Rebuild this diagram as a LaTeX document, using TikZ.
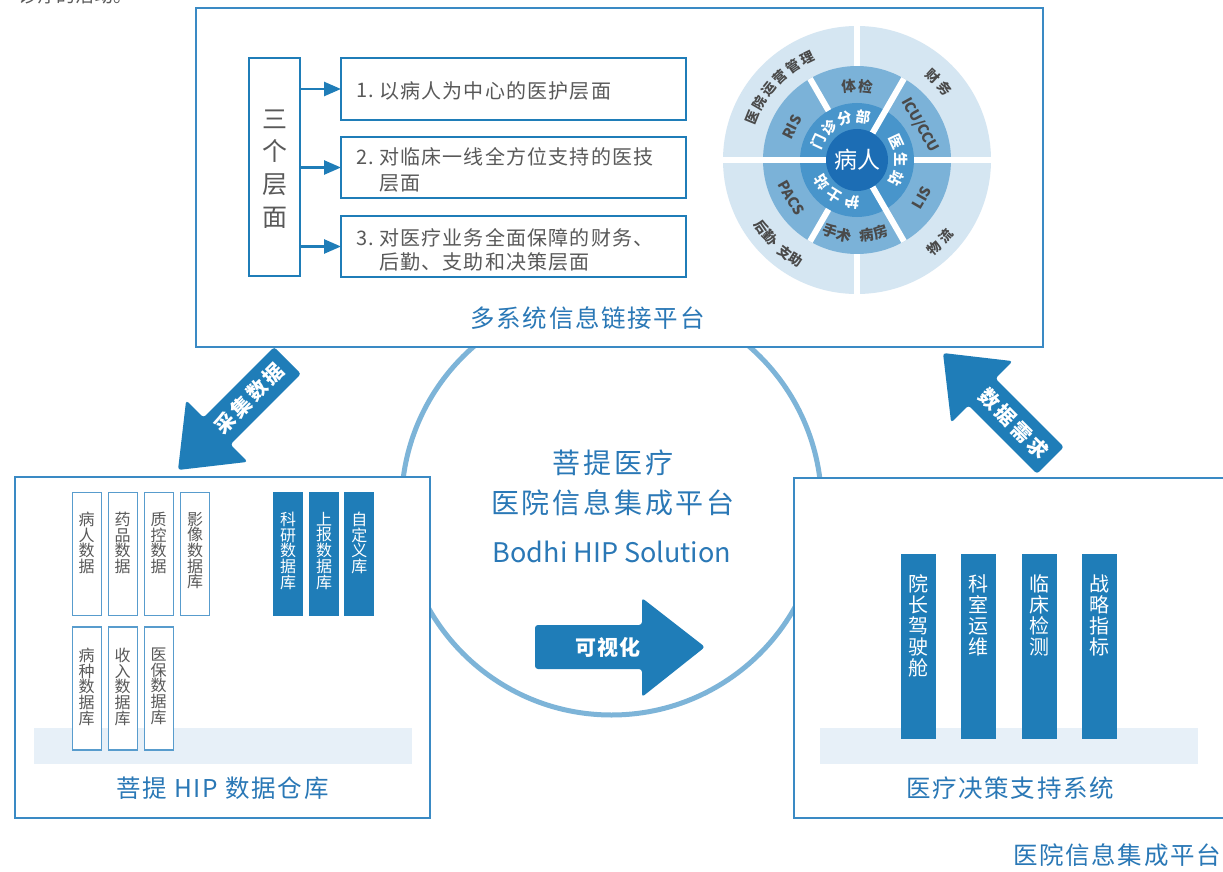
\documentclass[tikz,border=0pt]{standalone}
\usepackage{fontspec}
\setmainfont{Noto Sans CJK SC}
\newfontfamily\lsA[LetterSpace=6]{Noto Sans CJK SC}
\newfontfamily\lsB[LetterSpace=7]{Noto Sans CJK SC}
\newfontfamily\lsC[LetterSpace=10]{Noto Sans CJK SC}
\newfontfamily\lsD[LetterSpace=14]{Noto Sans CJK SC}
\usetikzlibrary{arrows.meta}
\definecolor{mainblue}{HTML}{1F7DB8}
\definecolor{lineblue}{HTML}{3A8AC4}
\definecolor{txtblue}{HTML}{2A78B6}
\definecolor{circblue}{HTML}{7DB4D8}
\definecolor{bandblue}{HTML}{E7F0F8}
\definecolor{ringA}{HTML}{D5E6F2}
\definecolor{ringB}{HTML}{7BB2D8}
\definecolor{ringC}{HTML}{4895CB}
\definecolor{ringD}{HTML}{1C6DB4}
\definecolor{gtxt}{HTML}{595959}
\definecolor{ringtxt}{HTML}{4A4A4A}
\newcommand\fsz[2]{\fontsize{#1}{#2}\selectfont}
\newcommand\wheelgap[3]{\draw[white,line width=6pt] ({857+#2*cos(#1)},{160-#2*sin(#1)}) -- ({857+#3*cos(#1)},{160-#3*sin(#1)});}
\newcommand\cwarc[3]{\foreach \ch/\ang in {#3} {\node[#2, rotate=\ang-90] at ({857+#1*cos(\ang)},{160-#1*sin(\ang)}) {\ch};}}
\newcommand\ccwarc[3]{\foreach \ch/\ang in {#3} {\node[#2, rotate=\ang+90] at ({857+#1*cos(\ang)},{160-#1*sin(\ang)}) {\ch};}}
\tikzset{
  frame/.style={draw=lineblue, line width=1.4pt, fill=white},
  itembox/.style={draw=mainblue, line width=2.5pt, fill=white, minimum width=345pt, minimum height=61pt},
  itemtxt/.style={anchor=west, text=gtxt, font=\lsA\fsz{20}{20}},
  dbbox/.style={draw=lineblue!85, line width=1.4pt, fill=white, minimum width=29pt, minimum height=123pt},
  dbdark/.style={fill=mainblue, minimum width=30pt, minimum height=124pt},
  dbtxt/.style={anchor=north, align=center, font=\fsz{16}{15.7}},
  bar/.style={fill=mainblue, minimum width=35pt, minimum height=185pt},
  bartxt/.style={anchor=north, align=center, text=white, font=\fsz{20}{21}},
  title/.style={text=txtblue, font=\lsB\fsz{24.5}{24.5}},
  ringlbl/.style={text=ringtxt, font=\bfseries\fsz{13.5}{13.5}},
  ringlblB/.style={text=ringtxt, font=\bfseries\fsz{14.5}{14.5}},
  innerlbl/.style={text=white, font=\bfseries\fsz{14.5}{14.5}},
  bigarrow/.style={fill=mainblue, rounded corners=3pt},
  arrowtxt/.style={text=white, font=\lsD\bfseries\fsz{20}{20}},
  conn/.style={draw=mainblue, line width=2.5pt, -{Triangle[length=17pt,width=14pt]}}
}
\begin{document}
\begin{tikzpicture}[x=1pt,y=-1pt, every node/.style={inner sep=0pt, outer sep=0pt}]
\useasboundingbox (0,0) rectangle (1223,872);
\fill[white] (0,0) rectangle (1223,872);

% cut-off text at top
\node[anchor=base west, text=gtxt, font=\fsz{19}{19}] (cuttext) at (19,3) {诊疗的活动。};

% big circle
\draw[circblue, line width=5pt] (611.5,505) circle[radius=210pt];

% top box
\path[frame] (196,8) rectangle (1043,347);

% three layers
\node[itembox, minimum width=51pt, minimum height=218pt] (tri) at (274.5,167) {};
\node[align=center, text=gtxt, font=\fsz{25}{32.7}] (tritxt) at (275,169) {三\\个\\层\\面};
\node[itembox, minimum height=62pt] (item1) at (513.5,89) {};
\node[itembox] (item2) at (513.5,167.5) {};
\node[itembox] (item3) at (513.5,246.5) {};
\draw[conn] (tri.east |- item1) -- (item1.west);
\draw[conn] (tri.east |- item2) -- (item2.west);
\draw[conn] (tri.east |- item3) -- (item3.west);
\node[itemtxt] (n1) at (356,91) {1.};
\node[itemtxt] (t1) at (379,91) {以病人为中心的医护层面};
\node[itemtxt] (n2) at (356,157) {2.};
\node[itemtxt] (t2a) at (379,157) {对临床一线全方位支持的医技};
\node[itemtxt] (t2b) at (379,183) {层面};
\node[itemtxt] (n3) at (356,238) {3.};
\node[itemtxt] (t3a) at (379,238) {对医疗业务全面保障的财务、};
\node[itemtxt] (t3b) at (379,262) {后勤、支助和决策层面};
\node[title] (toptitle) at (587.5,318) {多系统信息链接平台};

% wheel
\fill[ringA] (857,160) circle[radius=134pt];
\fill[ringB] (857,160) circle[radius=94pt];
\fill[ringC] (857,160) circle[radius=57pt];
\wheelgap{180}{31}{138}
\wheelgap{0}{57}{138}
\wheelgap{90}{94}{138}
\wheelgap{270}{94}{138}
\wheelgap{120}{57}{94}
\wheelgap{240}{57}{94}
\wheelgap{60}{31}{94}
\wheelgap{-60}{31}{94}
\fill[ringD] (857,160) circle[radius=31pt];
\node[text=white, font=\fsz{23}{23}] (patient) at (857,160) {病人};
\cwarc{113}{ringlbl}{医/158,院/149.6,运/141.2,营/132.8,管/124.4,理/116}
\cwarc{113}{ringlbl}{财/47.5,务/39}
\ccwarc{117}{ringlbl}{后/215,勤/221.5,、/227,支/232,助/238.5}
\ccwarc{117}{ringlbl}{物/311,流/319.5}
\cwarc{74}{ringlblB}{体/96.5,检/83.5}
\ccwarc{76}{ringlblB}{手/249,术/260,、/267,病/277,房/288}
\node[ringlblB, rotate=63] (ris) at ({857+73*cos(153)},{160-73*sin(153)}) {RIS};
\node[ringlblB, rotate=-61] (icu) at ({857+72*cos(29)},{160-72*sin(29)}) {ICU/CCU};
\node[ringlblB, rotate=60] (lis) at ({857+75*cos(-30)},{160-75*sin(-30)}) {LIS};
\node[ringlblB, rotate=-60] (pacs) at ({857+76*cos(210)},{160-76*sin(210)}) {PACS};
\cwarc{43}{innerlbl}{门/155,诊/130.5,分/106,部/81.5}
\cwarc{44}{innerlbl}{医/25,生/0,站/-25}
\cwarc{42}{innerlbl}{护/263,士/238,站/213}

% left data warehouse
\path[frame] (15,477) rectangle (430,818);
\fill[bandblue] (34,728) rectangle (412,764);
\node[dbbox] (d1) at (86.7,553.8) {};
\node[dbbox] (d2) at (122.7,553.8) {};
\node[dbbox] (d3) at (158.7,553.8) {};
\node[dbbox] (d4) at (195,553.8) {};
\node[dbbox] (d5) at (86.7,688.3) {};
\node[dbbox] (d6) at (122.7,688.3) {};
\node[dbbox] (d7) at (158.7,688.3) {};
\node[dbdark] (k1) at (288.2,553.8) {};
\node[dbdark] (k2) at (324,553.8) {};
\node[dbdark] (k3) at (359.3,553.8) {};
\node[dbtxt, text=gtxt] at (86.7,512) {病\\人\\数\\据};
\node[dbtxt, text=gtxt] at (122.7,512) {药\\品\\数\\据};
\node[dbtxt, text=gtxt] at (158.7,512) {质\\控\\数\\据};
\node[dbtxt, text=gtxt] at (195,512) {影\\像\\数\\据\\库};
\node[dbtxt, text=gtxt] at (86.7,648) {病\\种\\数\\据\\库};
\node[dbtxt, text=gtxt] at (122.7,648) {收\\入\\数\\据\\库};
\node[dbtxt, text=gtxt] at (158.7,648) {医\\保\\数\\据\\库};
\node[dbtxt, text=white] at (288.2,512) {科\\研\\数\\据\\库};
\node[dbtxt, text=white] at (324,512) {上\\报\\数\\据\\库};
\node[dbtxt, text=white] at (359.3,512) {自\\定\\义\\库};
\node[title] (dwtitle) at (222.5,788) {菩提 HIP 数据仓库};

% right decision support
\path[frame] (794,478) rectangle (1240,818);
\fill[bandblue] (820,728) rectangle (1198,764);
\node[bar] (b1) at (918.7,646.7) {};
\node[bar] (b2) at (978.8,646.7) {};
\node[bar] (b3) at (1039.8,646.7) {};
\node[bar] (b4) at (1099.8,646.7) {};
\node[bartxt] at (918.7,575) {院\\长\\驾\\驶\\舱};
\node[bartxt] at (978.8,575) {科\\室\\运\\维};
\node[bartxt] at (1039.8,575) {临\\床\\检\\测};
\node[bartxt] at (1099.8,575) {战\\略\\指\\标};
\node[title] (dstitle) at (1010,788) {医疗决策支持系统};
\node[title] (hiptitle) at (1117,855) {医院信息集成平台};

% center texts
\node[text=txtblue, font=\lsC\fsz{28}{28}] (c1) at (613,463) {菩提医疗};
\node[text=txtblue, font=\lsC\fsz{28}{28}] (c2) at (613,503) {医院信息集成平台};
\node[text=txtblue, font=\fsz{27}{27}] (c3) at (612,552) {Bodhi HIP Solution};

% visualize arrow
\path[bigarrow] (535,625) -- (642,625) -- (642,598) -- (705,647) -- (642,697) -- (642,669) -- (535,669) -- cycle;
\node[arrowtxt, font=\lsB\bfseries\fsz{21}{21}] (vis) at (608,647) {可视化};

% collect data arrow
\begin{scope}[shift={(178,470)}, rotate=45]
\path[bigarrow] (0,0) -- (55,43.5) -- (55,19) -- (155,19) -- (155,-19) -- (55,-19) -- (55,-43.5) -- cycle;
\node[arrowtxt, rotate=45] (collect) at (101,0) {采集数据};
\end{scope}

% data demand arrow
\begin{scope}[shift={(943,353)}, rotate=-45]
\path[bigarrow] (0,0) -- (55,43.5) -- (55,19) -- (152,19) -- (152,-19) -- (55,-19) -- (55,-43.5) -- cycle;
\node[arrowtxt, rotate=-45] (demand) at (100,0) {数据需求};
\end{scope}
\end{tikzpicture}
\end{document}
